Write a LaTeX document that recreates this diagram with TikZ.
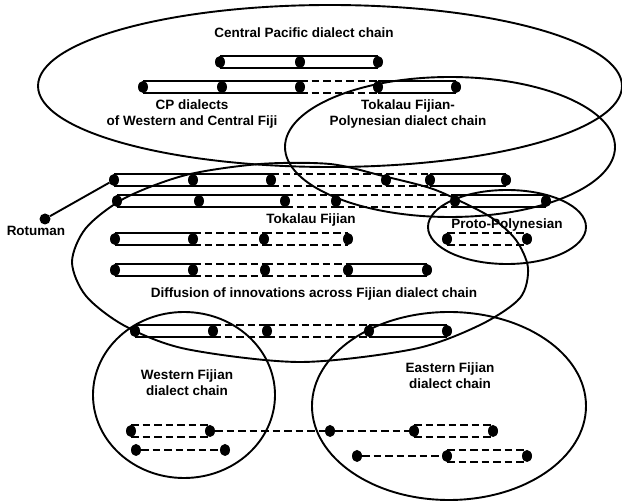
\documentclass[tikz,border=0pt]{standalone}
\usepackage{fontspec}
\setmainfont{Liberation Sans}
\usetikzlibrary{shapes.geometric}
\newcommand{\solseg}[2]{\draw[bar] (#1.north) -- (#2.north) (#1.south) -- (#2.south);}
\newcommand{\dasseg}[2]{\draw[dbar] (#1.north) -- (#2.north) (#1.south) -- (#2.south);}
\newcommand{\linseg}[2]{\draw[dbar] (#1) -- (#2);}
\begin{document}
\begin{tikzpicture}[x=1pt,y=-1pt,
  bead/.style={ellipse, fill=black, draw=none, inner sep=0pt, minimum width=10pt, minimum height=12pt},
  region/.style={line width=1.9pt},
  bar/.style={line width=1.7pt},
  dbar/.style={line width=1.7pt, dash pattern=on 7.5pt off 4pt},
  lbl/.style={font=\fontsize{13.5}{16}\selectfont\bfseries, align=center, inner sep=0pt}]
\useasboundingbox (0,0) rectangle (622,502);

% regions
\draw[region] (330,86) ellipse [x radius=292pt, y radius=81pt];   % Central Pacific
\draw[region] (450,147) ellipse [x radius=165pt, y radius=70pt];  % Tokalau Fijian-Polynesian
\draw[region] plot[smooth cycle] coordinates {(72,262) (86,228) (125,198) (186,175) (260,164) (330,164) (383,176) (430,188) (460,201) (492,218) (516,240) (528,268) (520,298) (480,325) (414,349) (300,362) (186,349) (125,326) (86,296)}; % Diffusion
\draw[region] (507,227) ellipse [x radius=79pt, y radius=37pt];   % Proto-Polynesian
\draw[region] (184,395) ellipse [x radius=91pt, y radius=83pt];   % Western Fijian
\draw[region] (449,406) ellipse [x radius=137pt, y radius=94pt];  % Eastern Fijian

% dots
\node[bead] (a1) at (220,62) {};
\node[bead] (a2) at (300,62) {};
\node[bead] (a3) at (378,62) {};
\node[bead] (b1) at (143,87) {};
\node[bead] (b2) at (222,87) {};
\node[bead] (b3) at (300,87) {};
\node[bead] (b4) at (378,87) {};
\node[bead] (b5) at (456,87) {};
\node[bead] (c1) at (114,180) {};
\node[bead] (c2) at (193,180) {};
\node[bead] (c3) at (271,180) {};
\node[bead] (c4) at (386,180) {};
\node[bead] (c5) at (430,180) {};
\node[bead] (c6) at (506,180) {};
\node[bead] (d1) at (117,201) {};
\node[bead] (d2) at (199,201) {};
\node[bead] (d3) at (285,201) {};
\node[bead] (d4) at (336,201) {};
\node[bead] (d5) at (455,201) {};
\node[bead] (d6) at (546,201) {};
\node[bead] (e1) at (115,239) {};
\node[bead] (e2) at (193,239) {};
\node[bead] (e3) at (264,239) {};
\node[bead] (e4) at (348,239) {};
\node[bead] (f1) at (115,270) {};
\node[bead] (f2) at (193,270) {};
\node[bead] (f3) at (265,270) {};
\node[bead] (f4) at (348,270) {};
\node[bead] (f5) at (427,270) {};
\node[bead] (p1) at (447,239) {};
\node[bead] (p2) at (527,239) {};
\node[bead] (h1) at (135,331) {};
\node[bead] (h2) at (213,331) {};
\node[bead] (h3) at (267,331) {};
\node[bead] (h4) at (369,331) {};
\node[bead] (h5) at (447,331) {};
\node[bead] (i1) at (131,431) {};
\node[bead] (i2) at (210,431) {};
\node[bead] (i3) at (330,431) {};
\node[bead] (i4) at (414,431) {};
\node[bead] (i5) at (493,431) {};
\node[bead] (j1) at (136,450) {};
\node[bead] (j2) at (225,450) {};
\node[bead] (k1) at (357,456) {};
\node[bead] (k2) at (447,456) {};
\node[bead] (k3) at (527,456) {};
\node[bead, minimum width=11pt, minimum height=11pt] (rot) at (45,219) {};

% segments
\solseg{a1}{a2} \solseg{a2}{a3}
\solseg{b1}{b2} \solseg{b2}{b3} \dasseg{b3}{b4} \solseg{b4}{b5}
\solseg{c1}{c2} \solseg{c2}{c3} \dasseg{c3}{c4} \dasseg{c4}{c5} \solseg{c5}{c6}
\solseg{d1}{d2} \solseg{d2}{d3} \dasseg{d3}{d4} \dasseg{d4}{d5} \solseg{d5}{d6}
\solseg{e1}{e2} \dasseg{e2}{e3} \dasseg{e3}{e4}
\solseg{f1}{f2} \dasseg{f2}{f3} \dasseg{f3}{f4} \solseg{f4}{f5}
\dasseg{p1}{p2}
\solseg{h1}{h2} \dasseg{h2}{h3} \dasseg{h3}{h4} \solseg{h4}{h5}
\dasseg{i1}{i2} \linseg{i2}{i3} \linseg{i3}{i4} \dasseg{i4}{i5}
\linseg{j1}{j2}
\linseg{k1}{k2} \dasseg{k2}{k3}
\draw[line width=1.9pt] (rot) -- (c1);

% labels
\node[lbl] (tcp) at (304,33) {Central Pacific dialect chain};
\node[lbl] (tcpw) at (192,114) {CP dialects\\of Western and Central Fiji};
\node[lbl] (ttfp) at (408,114.5) {Tokalau Fijian-\\Polynesian dialect chain};
\node[lbl] (ttf) at (311,220) {Tokalau Fijian};
\node[lbl] (tpp) at (507,225) {Proto-Polynesian};
\node[lbl] (trot) at (36,231) {Rotuman};
\node[lbl] (tdif) at (314,294) {Diffusion of innovations across Fijian dialect chain};
\node[lbl] (twf) at (187,382.5) {Western Fijian\\dialect chain};
\node[lbl] (tef) at (450,375.5) {Eastern Fijian\\dialect chain};
\end{tikzpicture}
\end{document}
